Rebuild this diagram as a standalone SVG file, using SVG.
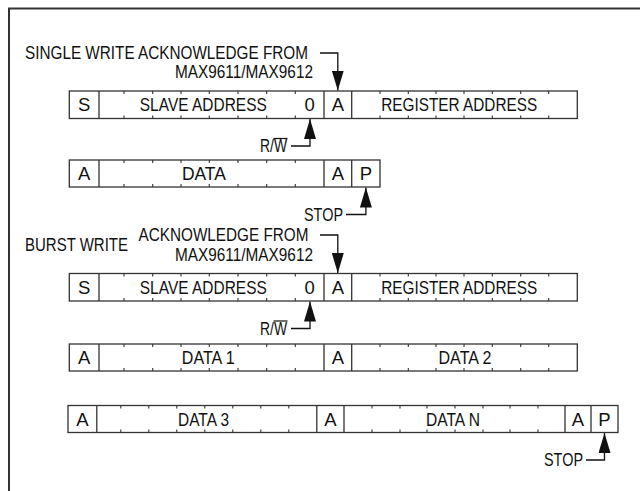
<svg xmlns="http://www.w3.org/2000/svg" width="640" height="491" viewBox="0 0 640 491">
<defs>
<style>
.t{font-family:"Liberation Sans",Arial,sans-serif;font-size:18.5px;fill:#111}
.m{text-anchor:middle}
.box{fill:#fff;stroke:#333;stroke-width:1.3}
.div{stroke:#333;stroke-width:1.3}
.tick{stroke:#333;stroke-width:1.1}
.con{fill:none;stroke:#111;stroke-width:1.3}
.frame{fill:none;stroke:#333;stroke-width:2}
</style>
<marker id="ah" markerUnits="userSpaceOnUse" markerWidth="20" markerHeight="12" refX="20" refY="6" orient="auto">
<path d="M0,0 L20,6 L0,12 z" fill="#111"/>
</marker>
</defs>
<rect width="640" height="491" fill="#fff"/>
<path class="frame" d="M9,491 V8.5 H640"/>

<g id="labels">
<text class="t" x="25" y="59" textLength="283" lengthAdjust="spacingAndGlyphs">SINGLE WRITE ACKNOWLEDGE FROM</text>
<text class="t" x="175" y="78" textLength="138" lengthAdjust="spacingAndGlyphs">MAX9611/MAX9612</text>
<text class="t" x="260" y="152" textLength="27" lengthAdjust="spacingAndGlyphs">R/W</text>
<line x1="273.5" y1="138.5" x2="287.5" y2="138.5" stroke="#111" stroke-width="1.2"/>
<text class="t" x="304" y="220.5" textLength="39" lengthAdjust="spacingAndGlyphs">STOP</text>
<text class="t" x="25" y="250.5" textLength="103" lengthAdjust="spacingAndGlyphs">BURST WRITE</text>
<text class="t" x="138.5" y="241" textLength="170" lengthAdjust="spacingAndGlyphs">ACKNOWLEDGE FROM</text>
<text class="t" x="175" y="260.5" textLength="138" lengthAdjust="spacingAndGlyphs">MAX9611/MAX9612</text>
<text class="t" x="260" y="334.5" textLength="27" lengthAdjust="spacingAndGlyphs">R/W</text>
<line x1="273.5" y1="321" x2="287.5" y2="321" stroke="#111" stroke-width="1.2"/>
<text class="t" x="544" y="466" textLength="39" lengthAdjust="spacingAndGlyphs">STOP</text>
</g>

<g id="row1">
<rect class="box" x="69.3" y="91" width="508" height="27.5"/>
<path class="div" d="M99,91V118.5M324,91V118.5M351.7,91V118.5"/>
<path class="tick" d="M124,91v3M152.7,91v3M181,91v3M209.3,91v3M238,91v3M266.7,91v3M295.3,91v3M380,91v3M408.3,91v3M436,91v3M464,91v3M492.3,91v3M520.7,91v3M548.7,91v3M124,118.5v-3M152.7,118.5v-3M181,118.5v-3M209.3,118.5v-3M238,118.5v-3M266.7,118.5v-3M295.3,118.5v-3M380,118.5v-3M408.3,118.5v-3M436,118.5v-3M464,118.5v-3M492.3,118.5v-3M520.7,118.5v-3M548.7,118.5v-3"/>
<text class="t m" x="84.2" y="111">S</text>
<text class="t m" x="203.3" y="111" textLength="127" lengthAdjust="spacingAndGlyphs">SLAVE ADDRESS</text>
<text class="t m" x="309.7" y="111">0</text>
<text class="t m" x="337.9" y="111">A</text>
<text class="t m" x="459.2" y="111" textLength="156" lengthAdjust="spacingAndGlyphs">REGISTER ADDRESS</text>
</g>

<g id="row2">
<rect class="box" x="69.3" y="160" width="310.7" height="27"/>
<path class="div" d="M99,160V187M324,160V187M351.7,160V187"/>
<path class="tick" d="M124,160v3M152.7,160v3M181,160v3M209.3,160v3M238,160v3M266.7,160v3M295.3,160v3M124,187v-3M152.7,187v-3M181,187v-3M209.3,187v-3M238,187v-3M266.7,187v-3M295.3,187v-3"/>
<text class="t m" x="84.2" y="180">A</text>
<text class="t m" x="203.9" y="180" textLength="44" lengthAdjust="spacingAndGlyphs">DATA</text>
<text class="t m" x="337.9" y="180">A</text>
<text class="t m" x="365.9" y="180">P</text>
</g>

<g id="row3">
<rect class="box" x="69.3" y="273.5" width="508" height="27.5"/>
<path class="div" d="M99,273.5V301M324,273.5V301M351.7,273.5V301"/>
<path class="tick" d="M124,273.5v3M152.7,273.5v3M181,273.5v3M209.3,273.5v3M238,273.5v3M266.7,273.5v3M295.3,273.5v3M380,273.5v3M408.3,273.5v3M436,273.5v3M464,273.5v3M492.3,273.5v3M520.7,273.5v3M548.7,273.5v3M124,301v-3M152.7,301v-3M181,301v-3M209.3,301v-3M238,301v-3M266.7,301v-3M295.3,301v-3M380,301v-3M408.3,301v-3M436,301v-3M464,301v-3M492.3,301v-3M520.7,301v-3M548.7,301v-3"/>
<text class="t m" x="84.2" y="293.5">S</text>
<text class="t m" x="203.3" y="293.5" textLength="127" lengthAdjust="spacingAndGlyphs">SLAVE ADDRESS</text>
<text class="t m" x="309.7" y="293.5">0</text>
<text class="t m" x="337.9" y="293.5">A</text>
<text class="t m" x="459.2" y="293.5" textLength="156" lengthAdjust="spacingAndGlyphs">REGISTER ADDRESS</text>
</g>

<g id="row4">
<rect class="box" x="69.3" y="344" width="508" height="27"/>
<path class="div" d="M99,344V371M324,344V371M351.7,344V371"/>
<path class="tick" d="M124,344v3M152.7,344v3M181,344v3M209.3,344v3M238,344v3M266.7,344v3M295.3,344v3M380,344v3M408.3,344v3M436,344v3M464,344v3M492.3,344v3M520.7,344v3M548.7,344v3M124,371v-3M152.7,371v-3M181,371v-3M209.3,371v-3M238,371v-3M266.7,371v-3M295.3,371v-3M380,371v-3M408.3,371v-3M436,371v-3M464,371v-3M492.3,371v-3M520.7,371v-3M548.7,371v-3"/>
<text class="t m" x="84.2" y="364">A</text>
<text class="t m" x="208.3" y="364" textLength="53" lengthAdjust="spacingAndGlyphs">DATA 1</text>
<text class="t m" x="337.9" y="364">A</text>
<text class="t m" x="465" y="364" textLength="53" lengthAdjust="spacingAndGlyphs">DATA 2</text>
</g>

<g id="row5">
<rect class="box" x="68" y="405.5" width="550" height="27"/>
<path class="div" d="M96.8,405.5V432.5M316.8,405.5V432.5M344,405.5V432.5M565,405.5V432.5M591,405.5V432.5"/>
<path class="tick" d="M120.8,405.5v3M148.8,405.5v3M176.8,405.5v3M204.8,405.5v3M232.8,405.5v3M260.8,405.5v3M288.8,405.5v3M372,405.5v3M400,405.5v3M427,405.5v3M455,405.5v3M483,405.5v3M510,405.5v3M538,405.5v3M120.8,432.5v-3M148.8,432.5v-3M176.8,432.5v-3M204.8,432.5v-3M232.8,432.5v-3M260.8,432.5v-3M288.8,432.5v-3M372,432.5v-3M400,432.5v-3M427,432.5v-3M455,432.5v-3M483,432.5v-3M510,432.5v-3M538,432.5v-3"/>
<text class="t m" x="82.4" y="425.5">A</text>
<text class="t m" x="203.5" y="425.5" textLength="51" lengthAdjust="spacingAndGlyphs">DATA 3</text>
<text class="t m" x="330.4" y="425.5">A</text>
<text class="t m" x="453" y="425.5" textLength="54" lengthAdjust="spacingAndGlyphs">DATA N</text>
<text class="t m" x="578" y="425.5">A</text>
<text class="t m" x="604.5" y="425.5">P</text>
</g>

<g id="connectors">
<path class="con" marker-end="url(#ah)" d="M320,53 H337.8 V90.5"/>
<path class="con" marker-end="url(#ah)" d="M291,146 H310 V119"/>
<path class="con" marker-end="url(#ah)" d="M346,214.5 H365.9 V187.5"/>
<path class="con" marker-end="url(#ah)" d="M320,235 H337.8 V273"/>
<path class="con" marker-end="url(#ah)" d="M291,328.5 H310 V301.5"/>
<path class="con" marker-end="url(#ah)" d="M586,460 H604.5 V433"/>
</g>
</svg>
